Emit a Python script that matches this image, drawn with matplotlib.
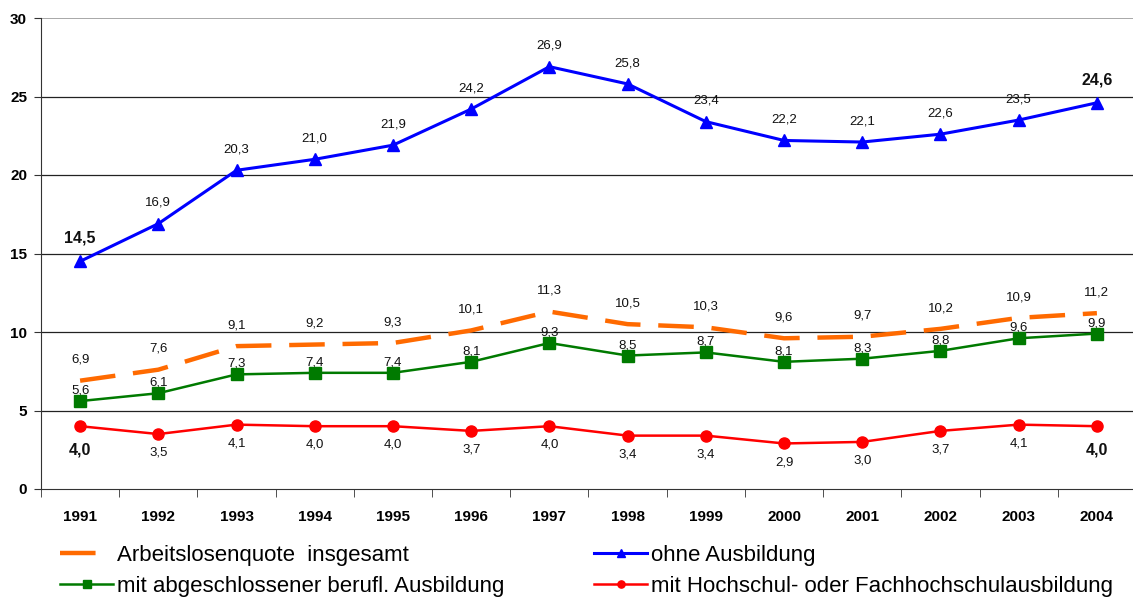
import matplotlib
matplotlib.use("Agg")
import matplotlib.pyplot as plt
import numpy as np

plt.rcParams['font.family'] = ['Liberation Sans', 'DejaVu Sans']

years = ['1991', '1992', '1993', '1994', '1995', '1996', '1997',
         '1998', '1999', '2000', '2001', '2002', '2003', '2004']
insgesamt = [6.9, 7.6, 9.1, 9.2, 9.3, 10.1, 11.3, 10.5, 10.3, 9.6, 9.7, 10.2, 10.9, 11.2]
ohne = [14.5, 16.9, 20.3, 21.0, 21.9, 24.2, 26.9, 25.8, 23.4, 22.2, 22.1, 22.6, 23.5, 24.6]
beruf = [5.6, 6.1, 7.3, 7.4, 7.4, 8.1, 9.3, 8.5, 8.7, 8.1, 8.3, 8.8, 9.6, 9.9]
hochschul = [4.0, 3.5, 4.1, 4.0, 4.0, 3.7, 4.0, 3.4, 3.4, 2.9, 3.0, 3.7, 4.1, 4.0]

labels = ['Arbeitslosenquote  insgesamt', 'ohne Ausbildung',
          'mit abgeschlossener berufl. Ausbildung',
          'mit Hochschul- oder Fachhochschulausbildung']

W, H = 1133, 598
fig = plt.figure(figsize=(W / 100, H / 100), dpi=100)
# axes extends slightly past the right edge like the original crop
ax = fig.add_axes([41 / W, 1 - 489 / H, (1136 - 41) / W, (489 - 18) / H])

x = np.arange(len(years))

for yv in [5, 10, 15, 20, 25]:
    ax.axhline(yv, color='#222222', lw=0.9, zorder=1)
ax.axhline(30, color='#999999', lw=1.2, zorder=1)

l_ins, = ax.plot(x, insgesamt, color='#ff6a00', lw=3.2, dashes=(8, 4), zorder=3)
l_ohne, = ax.plot(x, ohne, color='#0000ff', lw=2.2, marker='^', ms=9, zorder=4)
l_ber, = ax.plot(x, beruf, color='#007a00', lw=1.8, marker='s', ms=8, zorder=4)
l_hoch, = ax.plot(x, hochschul, color='#ff0000', lw=1.8, marker='o', ms=8, zorder=4)

def fmt(v):
    return f'{v:.1f}'.replace('.', ',')

last = len(years) - 1
small = 9.5
for i in x:
    big = i in (0, last)
    fs, fw = (11.5, 'bold') if big else (small, 'normal')
    ax.annotate(fmt(ohne[i]), (i, ohne[i]), xytext=(0, 16.5 if big else 15),
                textcoords='offset points', ha='center', va='center',
                fontsize=fs, fontweight=fw, color='#111111')
    ax.annotate(fmt(insgesamt[i]), (i, insgesamt[i]), xytext=(0, 15),
                textcoords='offset points', ha='center', va='center',
                fontsize=small, color='#111111')
    ax.annotate(fmt(beruf[i]), (i, beruf[i]), xytext=(0, 7.5),
                textcoords='offset points', ha='center', va='center',
                fontsize=small, color='#111111')
    ax.annotate(fmt(hochschul[i]), (i, hochschul[i]), xytext=(0, -17 if big else -13.5),
                textcoords='offset points', ha='center', va='center',
                fontsize=fs, fontweight=fw, color='#111111')

ax.set_xlim(-0.5, len(years) - 0.5)
ax.set_ylim(0, 30)
ax.set_yticks([0, 5, 10, 15, 20, 25, 30])
ax.set_yticklabels([str(v) for v in [0, 5, 10, 15, 20, 25, 30]],
                   fontsize=11, fontweight='bold')
ax.set_xticks(x)
ax.set_xticklabels(years, fontsize=11, fontweight='bold')
ax.tick_params(axis='x', length=0, pad=15)
ax.set_xticks(np.arange(len(years) + 1) - 0.5, minor=True)
ax.tick_params(axis='x', which='minor', length=6, direction='out', color='#333333')
ax.tick_params(axis='y', length=5, direction='out', color='#333333', pad=5)

for s in ['top', 'right']:
    ax.spines[s].set_visible(False)
ax.spines['left'].set_color('#333333')
ax.spines['bottom'].set_color('#333333')

common = dict(loc='upper left', frameon=False, fontsize=16, handlelength=2.4,
              handletextpad=0.15, labelspacing=0.45, borderaxespad=0, borderpad=0,
              markerscale=0.65)
fig.legend([l_ins, l_ber], [labels[0], labels[2]],
           bbox_to_anchor=(60 / W, 1 - 545 / H), **common)
fig.legend([l_ohne, l_hoch], [labels[1], labels[3]],
           bbox_to_anchor=(594 / W, 1 - 545 / H), **common)

fig.savefig('out.png', dpi=100)
